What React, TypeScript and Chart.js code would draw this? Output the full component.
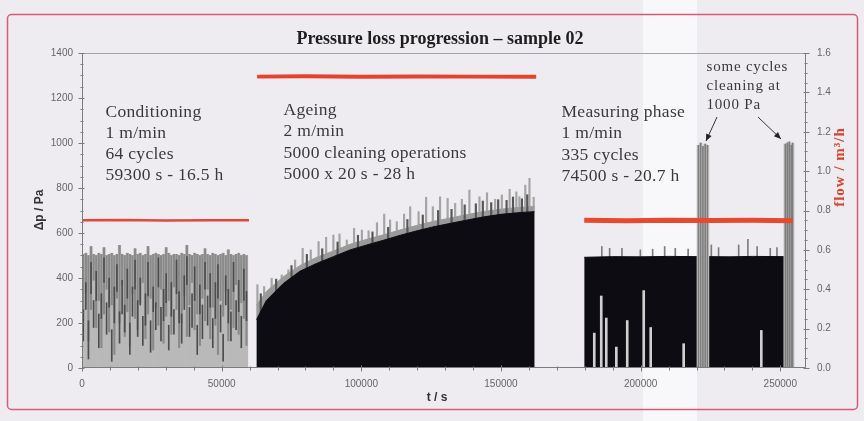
import React, { useEffect, useRef } from 'react';
import { Chart, registerables } from 'chart.js';

Chart.register(...registerables);

// ---------------- data ----------------
// Conditioning phase: 64 filter cycles, pressure drop in Pa
const condT = [450, 1380, 2300, 3230, 4160, 5090, 6010, 6940, 7870, 8800, 9720, 10650, 11580, 12510, 13430, 14360,
  15290, 16220, 17140, 18070, 19000, 19930, 20850, 21780, 22710, 23640, 24560, 25490, 26420, 27350, 28270, 29200,
  30130, 31060, 31980, 32910, 33840, 34770, 35690, 36620, 37550, 38480, 39400, 40330, 41260, 42190, 43110, 44040,
  44970, 45900, 46820, 47750, 48680, 49610, 50530, 51460, 52390, 53320, 54240, 55170, 56100, 57030, 57950, 58880];
const condTop = [505, 510, 500, 540, 505, 500, 510, 505, 535, 500, 505, 510, 500, 505, 545, 505,
  500, 510, 505, 500, 530, 505, 510, 500, 505, 540, 500, 505, 510, 505, 500, 505,
  535, 510, 500, 505, 505, 500, 510, 505, 545, 505, 500, 510, 505, 500, 505, 530,
  505, 500, 510, 505, 500, 505, 510, 500, 525, 505, 500, 505, 510, 500, 505, 500];
const condMidLo = [210, 330, 120, 260, 390, 180, 300, 90, 240, 350, 160, 280, 60, 310, 200, 370,
  140, 250, 100, 330, 220, 170, 290, 380, 130, 240, 310, 80, 270, 190, 350, 110,
  230, 300, 150, 360, 260, 90, 200, 320, 140, 280, 380, 170, 240, 100, 310, 210,
  350, 130, 270, 190, 60, 300, 230, 340, 120, 260, 180, 370, 150, 290, 220, 100];
const condDarkLo = [120, 260, 40, 330, 180, 300, 90, 220, 380, 150, 270, 30, 200, 340, 110, 240,
  160, 310, 60, 230, 350, 140, 280, 100, 190, 320, 70, 250, 170, 360, 120, 210,
  290, 80, 230, 150, 330, 200, 110, 260, 370, 140, 180, 300, 60, 240, 130, 350,
  190, 270, 90, 220, 310, 160, 30, 280, 200, 120, 340, 170, 250, 90, 300, 210];
const condDarkHi = [260, 380, 210, 470, 300, 430, 240, 330, 490, 290, 400, 170, 360, 460, 250, 390,
  280, 440, 200, 360, 480, 300, 400, 230, 330, 470, 210, 360, 290, 490, 270, 350,
  420, 190, 380, 260, 480, 340, 240, 410, 495, 270, 330, 450, 190, 370, 280, 470,
  320, 420, 220, 380, 460, 280, 150, 410, 350, 250, 470, 300, 390, 230, 440, 340];

// Ageing phase: envelope of the dense (black) trace, grey band and single peaks
const ageT = [62500, 66000, 72000, 78000, 84000, 90000, 96000, 102000, 108000, 114000, 120000, 126000, 132000, 138000, 144000, 150000, 156000, 162000];
const ageBlack = [215, 300, 375, 430, 465, 495, 525, 547, 568, 590, 610, 628, 643, 658, 672, 683, 690, 695];
const ageGrey = [280, 340, 405, 455, 492, 520, 550, 572, 592, 614, 634, 652, 667, 682, 696, 706, 713, 718];
const ageSpikeT = [62800, 65200, 67900, 71500, 73900, 76300, 79000, 81900, 84700, 87400, 90000, 92200, 94800, 97400,
  100200, 102600, 105600, 108200, 110300, 112700, 115300, 117500, 120500, 123200, 125600, 128200, 130900, 133600,
  136000, 138700, 142300, 145000, 147900, 150300, 153100, 155500, 156600, 158700, 160200, 161700];
const ageSpikeTop = [370, 362, 399, 414, 436, 480, 532, 525, 562, 581, 591, 596, 569, 621,
  613, 610, 646, 684, 658, 650, 684, 717, 695, 759, 717, 761, 754, 732,
  750, 791, 761, 779, 750, 769, 794, 783, 761, 813, 843, 759];
const ageSpike2T = [64000, 69500, 75000, 80500, 86000, 91500, 98800, 104000, 109600, 116500, 122000, 127500, 132300,
  137000, 141000, 143500, 146500, 149000, 152000, 154300, 157500, 159400];
const ageSpike2Top = [330, 395, 455, 505, 530, 560, 590, 605, 625, 660, 680, 700, 705, 725, 730, 742, 735, 748, 745, 760, 752, 770];

// Measuring phase
const measT1 = [179800, 190000, 200000, 210000, 220400];
const measLevel1 = [492, 495, 494, 496, 495];
const measT2 = [224200, 232000, 240000, 251500];
const measLevel2 = [495, 494, 496, 495];
const measSpikeT = [186100, 188900, 193300, 199900, 204300, 208600, 212400, 217000, 225300, 227900, 235100, 238400, 241700, 246400, 248800];
const measSpikeTop = [540, 532, 532, 525, 528, 540, 532, 528, 547, 535, 547, 572, 540, 532, 535];
const measGapT = [183400, 185900, 187700, 191300, 195200, 201100, 203600, 215400, 243200];
const measGapTop = [155, 320, 222, 93, 211, 344, 180, 108, 167];
const measHighT = [220700, 221500, 222300, 223100, 223900, 251800, 252500, 253200, 253900, 254400];
const measHighTop = [990, 1000, 985, 995, 990, 995, 1000, 1005, 990, 1000];

// Flow (right axis, m³/h)
const flowCondT = [0, 15000, 30000, 45000, 59800];
const flowCond = [0.75, 0.752, 0.749, 0.751, 0.75];
const flowAgeT = [62700, 80000, 100000, 120000, 140000, 162600];
const flowAge = [1.48, 1.482, 1.479, 1.481, 1.48, 1.48];
const flowMeasT = [179800, 195000, 210000, 225000, 240000, 254400];
const flowMeas = [0.75, 0.748, 0.751, 0.749, 0.75, 0.748];

// Axis settings / tick labels
const xMax = 259200;
const xTickValues = [0, 50000, 100000, 150000, 200000, 250000];
const yMax = 1400;
const yTickValues = [0, 200, 400, 600, 800, 1000, 1200, 1400];
const y2Max = 1.6;
const y2TickValues = [0, 0.2, 0.4, 0.6, 0.8, 1.0, 1.2, 1.4, 1.6];

const titleText = 'Pressure loss progression – sample 02';
const yTitle = 'Δp / Pa';
const y2Title = 'flow / m³/h';
const xTitle = 't / s';
const condText = ['Conditioning', '1 m/min', '64 cycles', '59300 s - 16.5 h'];
const ageText = ['Ageing', '2 m/min', '5000 cleaning operations', '5000 x 20 s - 28 h'];
const measText = ['Measuring phase', '1 m/min', '335 cycles', '74500 s - 20.7 h'];
const noteText = ['some cycles', 'cleaning at', '1000 Pa'];

// ---------------- helpers ----------------
const pts = (xs: number[], ys: number[]) => xs.map((x, i) => ({ x, y: ys[i] }));
const spans = (xs: number[], lo: number[] | number, hi: number[]) =>
  xs.map((x, i) => ({ x, y: [Array.isArray(lo) ? lo[i] : lo, hi[i]] }));

const bar = (data: any[], color: string, thickness: number, order: number) => ({
  type: 'bar' as const,
  data,
  backgroundColor: color,
  borderWidth: 0,
  barThickness: thickness,
  grouped: false,
  order,
  yAxisID: 'y',
});
const area = (data: any[], color: string, order: number) => ({
  type: 'line' as const,
  data,
  borderColor: color,
  backgroundColor: color,
  borderWidth: 1,
  fill: 'origin',
  pointRadius: 0,
  tension: 0,
  order,
  yAxisID: 'y',
});
const flow = (data: any[], color: string, width: number) => ({
  type: 'line' as const,
  data,
  borderColor: color,
  borderWidth: width,
  fill: false,
  pointRadius: 0,
  tension: 0,
  order: 0,
  yAxisID: 'y2',
});
const fixedTicks = (vals: number[]) => (s: any) => { s.ticks = vals.map((v) => ({ value: v })); };

const decor = {
  id: 'decor',
  beforeDraw(chart: any) {
    const ctx = chart.ctx as CanvasRenderingContext2D;
    ctx.save();
    ctx.fillStyle = '#eeecf0';
    ctx.fillRect(0, 0, chart.width, chart.height);
    ctx.fillStyle = '#f8f8fa';
    ctx.fillRect(643, 0, 54, chart.height);
    ctx.strokeStyle = '#dc5a78';
    ctx.lineWidth = 1.5;
    ctx.beginPath();
    (ctx as any).roundRect(7.5, 14.5, 850, 395, 4);
    ctx.stroke();
    ctx.restore();
  },
  afterDatasetsDraw(chart: any) {
    const ctx = chart.ctx as CanvasRenderingContext2D;
    const { left, right, top, bottom } = chart.chartArea;
    const xs = chart.scales.x, ys = chart.scales.y, y2 = chart.scales.y2;
    const L = Math.round(left) + 0.5, R = Math.round(right) - 0.5, T = Math.round(top) + 0.5, B = Math.round(bottom) - 0.5;
    ctx.save();
    ctx.lineWidth = 1;
    ctx.strokeStyle = '#a6a4a8';
    ctx.beginPath();
    ctx.moveTo(L, T); ctx.lineTo(R, T);
    ctx.stroke();
    ctx.strokeStyle = '#7c7c7c';
    ctx.beginPath();
    ctx.moveTo(L, T); ctx.lineTo(L, B); ctx.lineTo(R, B); ctx.lineTo(R, T);
    for (let i = 0; i <= 28; i++) {
      const y = Math.round(ys.getPixelForValue(i * 50)) + 0.5;
      const major = i % 4 === 0;
      ctx.moveTo(L - (major ? 4 : 2), y); ctx.lineTo(L + (major ? 2 : 1), y);
    }
    for (let i = 0; i <= 32; i++) {
      const y = Math.round(y2.getPixelForValue(i * 0.05)) + 0.5;
      const major = i % 4 === 0;
      ctx.moveTo(R - (major ? 2 : 1), y); ctx.lineTo(R + (major ? 4 : 2), y);
    }
    for (let i = 0; i <= 25; i++) {
      const x = Math.round(xs.getPixelForValue(i * 10000)) + 0.5;
      const major = i % 5 === 0;
      ctx.moveTo(x, B - (major ? 2 : 1)); ctx.lineTo(x, B + (major ? 4 : 3));
    }
    ctx.stroke();
    ctx.restore();
  },
  afterDraw(chart: any) {
    const ctx = chart.ctx as CanvasRenderingContext2D;
    ctx.save();
    // title
    ctx.fillStyle = '#1e1e1e';
    ctx.font = 'bold 18px "Liberation Serif"';
    ctx.textAlign = 'center';
    ctx.textBaseline = 'alphabetic';
    ctx.fillText(titleText, 440, 44);
    // axis titles
    ctx.font = 'bold 12px "Liberation Sans"';
    ctx.fillStyle = '#333';
    ctx.textBaseline = 'middle';
    ctx.fillText(xTitle, 437, 398);
    ctx.save();
    ctx.translate(40, 210);
    ctx.rotate(-Math.PI / 2);
    ctx.fillText(yTitle, 0, 0);
    ctx.restore();
    ctx.save();
    ctx.translate(840, 167);
    ctx.rotate(-Math.PI / 2);
    ctx.fillStyle = '#d9432b';
    ctx.font = 'bold 15px "Liberation Serif"';
    (ctx as any).letterSpacing = '1px';
    ctx.fillText(y2Title, 0, 0);
    ctx.restore();
    // annotations
    ctx.textAlign = 'left';
    ctx.textBaseline = 'alphabetic';
    ctx.fillStyle = '#3a3a3a';
    ctx.font = '17.5px "Liberation Serif"';
    (ctx as any).letterSpacing = '0.3px';
    condText.forEach((t, i) => ctx.fillText(t, 105.5, 116.5 + i * 21.3));
    ageText.forEach((t, i) => ctx.fillText(t, 283.5, 115 + i * 21.3));
    measText.forEach((t, i) => ctx.fillText(t, 561.5, 117 + i * 21.3));
    ctx.font = '15px "Liberation Serif"';
    (ctx as any).letterSpacing = '0.8px';
    noteText.forEach((t, i) => ctx.fillText(t, 706.5, 71 + i * 18.8));
    // arrows
    const arrow = (x1: number, y1: number, x2: number, y2: number) => {
      ctx.strokeStyle = '#333';
      ctx.fillStyle = '#222';
      ctx.lineWidth = 1;
      ctx.beginPath();
      ctx.moveTo(x1, y1); ctx.lineTo(x2, y2);
      ctx.stroke();
      const a = Math.atan2(y2 - y1, x2 - x1);
      const len = 7, w = 3;
      ctx.beginPath();
      ctx.moveTo(x2, y2);
      ctx.lineTo(x2 - len * Math.cos(a) + w * Math.sin(a), y2 - len * Math.sin(a) - w * Math.cos(a));
      ctx.lineTo(x2 - len * Math.cos(a) - w * Math.sin(a), y2 - len * Math.sin(a) + w * Math.cos(a));
      ctx.closePath();
      ctx.fill();
    };
    arrow(717, 117, 706, 141);
    arrow(758, 117, 781, 139);
    ctx.restore();
  },
};

export default function App() {
  const ref = useRef<HTMLCanvasElement | null>(null);
  useEffect(() => {
    if (!ref.current) return;
    const tickFont = { family: '"Liberation Sans", Arial, sans-serif', size: 10 };
    const chart = new Chart(ref.current, {
      type: 'line',
      data: {
        datasets: [
          flow(pts(flowCondT, flowCond), '#e2483c', 2.5),
          flow(pts(flowAgeT, flowAge), '#e8412c', 4),
          flow(pts(flowMeasT, flowMeas), '#e8482e', 5),
          bar(spans(measGapT, 0, measGapTop), '#cfcfcf', 2, 1),
          bar(spans(measHighT, 0, measHighTop), '#7e7e7e', 1, 2),
          bar(spans(measHighT, 0, measHighTop), '#c6c6c6', 3, 3),
          area(pts(measT1, measLevel1), '#0c0c12', 4),
          area(pts(measT2, measLevel2), '#0c0c12', 4),
          bar(spans(measSpikeT, 0, measSpikeTop), '#7d7d7d', 1, 5),
          area(pts(ageT, ageBlack), '#0c0c12', 4),
          bar(spans(ageSpike2T, 0, ageSpike2Top), '#555555', 1.5, 5),
          area(pts(ageT, ageGrey), '#9a9a9a', 6),
          bar(spans(ageSpikeT, 0, ageSpikeTop), '#a4a4a4', 1.5, 7),
          bar(spans(condT, condDarkLo, condDarkHi), '#4d4d4d', 1, 1),
          bar(spans(condT, condMidLo, condTop), '#8a8a8a', 1.5, 2),
          bar(spans(condT, 0, condTop), '#b9b9b9', 2.6, 3),
        ] as any,
      },
      options: {
        responsive: false,
        animation: false,
        devicePixelRatio: 1,
        layout: { padding: { top: 53, left: 0, right: 0, bottom: 0 } },
        plugins: { legend: { display: false }, tooltip: { enabled: false }, title: { display: false } },
        scales: {
          x: {
            type: 'linear', min: 0, max: xMax, offset: false,
            grid: { display: false, drawTicks: false, offset: false },
            border: { display: false },
            afterBuildTicks: fixedTicks(xTickValues),
            ticks: { autoSkip: false, maxRotation: 0, padding: 10,
              color: '#666', font: tickFont, callback: (v: any) => String(v) },
            afterFit: (s: any) => { s.height = 53; },
          },
          y: {
            type: 'linear', position: 'left', min: 0, max: yMax,
            grid: { display: false, drawTicks: false },
            border: { display: false },
            afterBuildTicks: fixedTicks(yTickValues),
            ticks: { autoSkip: false, padding: 9, color: '#666', font: tickFont, callback: (v: any) => String(v) },
            afterFit: (s: any) => { s.width = 82; },
          },
          y2: {
            type: 'linear', position: 'right', min: 0, max: y2Max,
            grid: { display: false, drawTicks: false },
            border: { display: false },
            afterBuildTicks: fixedTicks(y2TickValues),
            ticks: { autoSkip: false, padding: 11, color: '#666', font: tickFont,
              callback: (v: any) => Number(v).toFixed(1) },
            afterFit: (s: any) => { s.width = 58; },
          },
        },
      } as any,
      plugins: [decor],
    });
    return () => chart.destroy();
  }, []);
  return (
    <div style={{ position: 'absolute', left: 0, top: 0, width: 864, height: 421 }}>
      <canvas ref={ref} width={864} height={421} />
    </div>
  );
}
